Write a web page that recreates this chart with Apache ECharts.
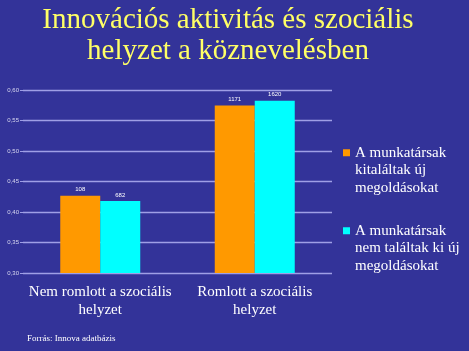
<!DOCTYPE html>
<html>
<head>
<meta charset="utf-8">
<script src="https://cdn.jsdelivr.net/npm/echarts@6/dist/echarts.min.js"></script>
<style>
html,body{margin:0;padding:0;background:#333399;}
#c{width:469px;height:351px;}
</style>
</head>
<body>
<div id="c"></div>
<script>
var categories = ['Nem romlott a szociális\nhelyzet', 'Romlott a szociális\nhelyzet'];
var seriesNames = ['A munkatársak\nkitaláltak új\nmegoldásokat', 'A munkatársak\nnem találtak ki új\nmegoldásokat'];
var valuesFound = [0.4265, 0.5745];
var valuesNotFound = [0.418, 0.5825];
var labelsFound = ['108', '1171'];
var labelsNotFound = ['682', '1620'];

var serif = '"Liberation Serif","Times New Roman",serif';
var chart = echarts.init(document.getElementById('c'));

function legendCfg(name, top) {
  return {
    data: [name],
    left: 343,
    top: top,
    orient: 'vertical',
    icon: 'rect',
    itemWidth: 7,
    itemHeight: 7,
    itemGap: 0,
    padding: 0,
    selectedMode: false,
    formatter: function (n) { return '\n\n' + n; },
    textStyle: {
      color: '#ffffff',
      fontFamily: serif,
      fontSize: 15,
      lineHeight: 17.5
    }
  };
}

chart.setOption({
  backgroundColor: '#333399',
  title: [{
    text: 'Innovációs aktivitás és szociális\nhelyzet a köznevelésben',
    left: 228,
    top: 0,
    textAlign: 'center',
    padding: [5, 0, 5, 0],
    textStyle: {
      color: '#FFFF66',
      fontFamily: serif,
      fontSize: 29,
      fontWeight: 'normal',
      lineHeight: 31
    }
  }, {
    text: 'Forrás: Innova adatbázis',
    left: 22,
    top: 329,
    textStyle: {
      color: '#ffffff',
      fontFamily: serif,
      fontSize: 9,
      fontWeight: 'normal'
    }
  }],
  legend: [legendCfg(seriesNames[0], 109), legendCfg(seriesNames[1], 187)],
  grid: { left: 23, right: 137, top: 90, bottom: 78 },
  xAxis: {
    type: 'category',
    data: categories,
    axisLine: { show: false },
    axisTick: { show: false },
    axisLabel: {
      color: '#ffffff',
      fontFamily: serif,
      fontSize: 15,
      lineHeight: 18,
      margin: 10,
      interval: 0
    }
  },
  yAxis: {
    type: 'value',
    min: 0.3,
    max: 0.6,
    interval: 0.05,
    axisLine: { show: false },
    axisTick: { show: true, length: 3, lineStyle: { color: '#9f9fe6' } },
    splitLine: { lineStyle: { color: '#9f9fe6', width: 1.3 } },
    axisLabel: {
      color: '#d8d8f0',
      fontSize: 6,
      margin: 4,
      formatter: function (v) { return v.toFixed(2).replace('.', ','); }
    }
  },
  series: [{
    name: seriesNames[0],
    type: 'bar',
    data: valuesFound,
    barWidth: 40,
    barGap: '0%',
    itemStyle: { color: '#FF9900' },
    label: {
      show: true,
      position: 'top',
      distance: 3,
      color: '#ffffff',
      fontSize: 6,
      formatter: function (p) { return labelsFound[p.dataIndex]; }
    }
  }, {
    name: seriesNames[1],
    type: 'bar',
    data: valuesNotFound,
    barWidth: 40,
    barGap: '0%',
    itemStyle: { color: '#00FFFF' },
    label: {
      show: true,
      position: 'top',
      distance: 3,
      color: '#ffffff',
      fontSize: 6,
      formatter: function (p) { return labelsNotFound[p.dataIndex]; }
    }
  }]
});
</script>
</body>
</html>
